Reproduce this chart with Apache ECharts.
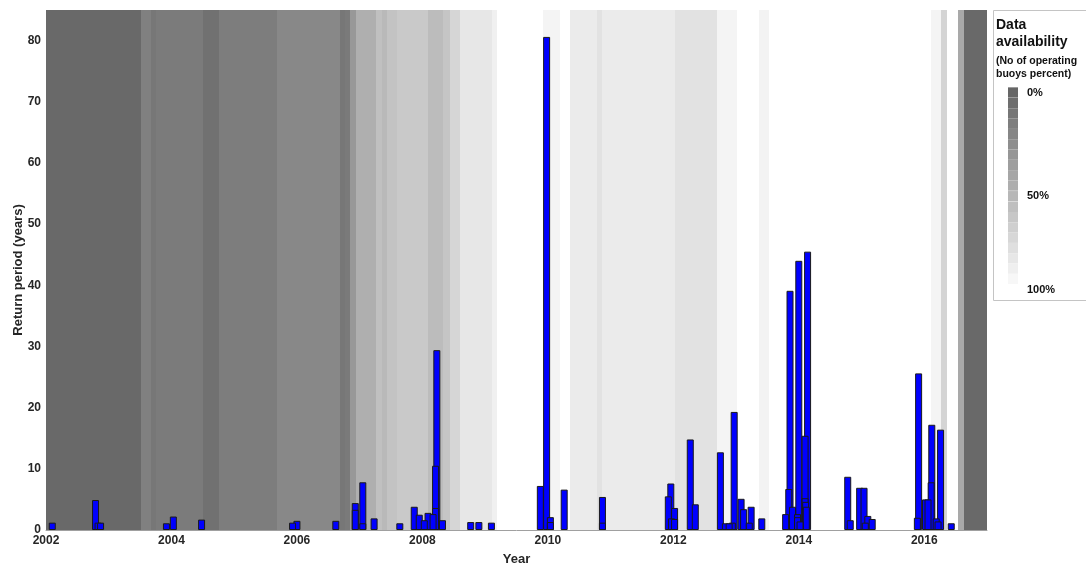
<!DOCTYPE html>
<html>
<head>
<meta charset="utf-8">
<script src="https://cdn.jsdelivr.net/npm/echarts@6/dist/echarts.min.js"></script>
<style>
html, body { margin: 0; padding: 0; background: #fff; }
#main { width: 1086px; height: 567px; }
</style>
</head>
<body>
<div id="main"></div>
<script>
var myChart = echarts.init(document.getElementById('main'));

// background bands: edges in years, availability in percent
var bandEdges = [2002.00, 2003.51, 2003.68, 2003.76, 2004.51, 2004.75, 2005.68, 2006.68, 2006.76, 2006.84,
    2006.94, 2007.26, 2007.35, 2007.43, 2007.59, 2008.09, 2008.33, 2008.44, 2008.60, 2009.11,
    2009.19, 2009.93, 2010.20, 2010.36, 2010.79, 2010.87, 2012.02, 2012.69, 2013.02, 2013.36,
    2013.52, 2016.10, 2016.26, 2016.37, 2016.53, 2016.63, 2017.00];
var bandAvail = [2, 17, 11, 14, 7, 15, 22, 11, 13, 33,
    48, 59, 54, 61, 65, 56, 62, 73, 84, 90,
    100, 93, 100, 87, 81, 87, 81, 93, 100, 92,
    100, 93, 72, 100, 44, 2];

// events
var eventYear = [2002.10, 2002.79, 2002.83, 2002.87, 2003.92, 2004.03, 2004.48, 2005.93, 2006.00, 2006.62,
    2006.93, 2006.93, 2007.05, 2007.05, 2007.23, 2007.64, 2007.87, 2007.95, 2008.03, 2008.09,
    2008.17, 2008.21, 2008.21, 2008.23, 2008.32, 2008.77, 2008.90, 2009.10, 2009.88, 2009.98,
    2010.04, 2010.04, 2010.26, 2010.87, 2010.87, 2011.92, 2011.96, 2011.97, 2012.02, 2012.02,
    2012.27, 2012.35, 2012.75, 2012.83, 2012.89, 2012.94, 2012.97, 2013.08, 2013.12, 2013.21,
    2013.24, 2013.41, 2013.79, 2013.84, 2013.86, 2013.90, 2013.98, 2013.98, 2014.00, 2014.02,
    2014.10, 2014.10, 2014.11, 2014.12, 2014.14, 2014.78, 2014.82, 2014.97, 2015.04, 2015.06,
    2015.10, 2015.17, 2015.89, 2015.91, 2016.02, 2016.06, 2016.11, 2016.12, 2016.19, 2016.22,
    2016.26, 2016.43];
var returnPeriod = [1.2, 4.9, 1.2, 1.2, 1.1, 2.2, 1.7, 1.2, 1.5, 1.5,
    4.4, 3.3, 7.8, 1.1, 1.9, 1.1, 3.8, 2.5, 1.6, 2.8,
    2.6, 10.5, 3.6, 29.4, 1.6, 1.3, 1.3, 1.2, 7.2, 80.6,
    2.1, 1.3, 6.6, 5.4, 1.2, 5.5, 7.6, 1.9, 3.6, 1.8,
    14.8, 4.2, 12.7, 1.1, 1.1, 1.2, 19.3, 5.1, 3.4, 1.2,
    3.8, 1.9, 2.6, 6.7, 39.1, 3.8, 2.6, 2.1, 44.0, 1.4,
    15.4, 5.2, 4.6, 3.8, 45.5, 8.7, 1.6, 6.9, 6.9, 1.2,
    2.3, 1.8, 2.0, 25.6, 5.0, 5.0, 7.8, 17.2, 1.9, 1.4,
    16.4, 1.1];

var fontFam = '"Liberation Sans", Arial, sans-serif';
var textCol = '#262626';

function availColor(p) {
    var g = Math.round(102 + 1.53 * p);
    return 'rgb(' + g + ',' + g + ',' + g + ')';
}

var bands = [];
for (var i = 0; i < bandAvail.length; i++) {
    bands.push([bandEdges[i], bandEdges[i + 1], bandAvail[i]]);
}

var bars = eventYear.map(function (x, i) { return [x, returnPeriod[i]]; });
// tall bars first so the short ones show their outline on top
bars.sort(function (a, b) { return b[1] - a[1]; });

var pieces = [];
for (var k = 0; k < 20; k++) {
    var p = { gte: k * 5, color: availColor(k * 100 / 19) };
    if (k === 19) p.lte = 100; else p.lt = k * 5 + 5;
    pieces.push(p);
}

var option = {
    animation: false,
    grid: {
        left: 46,
        right: 99,
        top: 10,
        bottom: 37,
        outerBoundsMode: 'none'
    },
    xAxis: {
        type: 'value',
        min: 2002,
        max: 2017,
        interval: 2,
        name: 'Year',
        nameLocation: 'middle',
        nameGap: 23,
        nameTextStyle: { color: textCol, fontWeight: 'bold', fontSize: 13, fontFamily: fontFam },
        axisLine: { lineStyle: { color: '#a0a0a0' } },
        axisTick: { show: false },
        splitLine: { show: false },
        axisLabel: {
            margin: 5,
            color: textCol,
            fontWeight: 'bold',
            fontSize: 12,
            fontFamily: fontFam,
            showMaxLabel: false,
            formatter: function (v) { return v % 2 === 0 ? String(v) : ''; }
        }
    },
    yAxis: {
        type: 'value',
        min: 0,
        max: 85,
        interval: 10,
        name: 'Return period (years)',
        nameLocation: 'middle',
        nameGap: 21,
        nameMoveOverlap: false,
        nameTextStyle: { color: textCol, fontWeight: 'bold', fontSize: 13, fontFamily: fontFam },
        axisLine: { show: false },
        axisTick: { show: false },
        splitLine: { show: false },
        axisLabel: {
            margin: 5,
            color: textCol,
            fontWeight: 'bold',
            fontSize: 12,
            fontFamily: fontFam,
            showMaxLabel: false,
            formatter: function (v) { return v % 10 === 0 ? String(v) : ''; }
        }
    },
    visualMap: {
        type: 'piecewise',
        seriesIndex: 0,
        dimension: 2,
        pieces: pieces,
        orient: 'vertical',
        inverse: true,
        align: 'left',
        left: 1008,
        top: 87,
        padding: 0,
        itemWidth: 10,
        itemHeight: 10.3,
        itemGap: 0,
        textGap: 9,
        itemSymbol: 'rect',
        selectedMode: false,
        hoverLink: false,
        textStyle: { color: '#111', fontWeight: 'bold', fontSize: 11, fontFamily: fontFam },
        formatter: function (a, b) {
            if (a === 0) return '0%';
            if (a === 50) return '50%';
            if (b === 100) return '100%';
            return '';
        }
    },
    graphic: [
        {
            type: 'rect',
            z: 0,
            shape: { x: 993.5, y: 10.5, width: 120, height: 290 },
            style: { fill: '#fff', stroke: '#c4c4c4', lineWidth: 1 }
        },
        {
            type: 'text',
            left: 996,
            top: 17,
            style: { text: 'Data\navailability', font: 'bold 14px ' + fontFam, fill: '#111', lineHeight: 17 }
        },
        {
            type: 'text',
            left: 996,
            top: 55,
            style: { text: '(No of operating\nbuoys percent)', font: 'bold 10.5px ' + fontFam, fill: '#111', lineHeight: 13 }
        }
    ],
    series: [
        {
            type: 'custom',
            data: bands,
            encode: { x: [0, 1] },
            silent: true,
            z: 1,
            renderItem: function (params, api) {
                var a = api.coord([api.value(0), 0]);
                var b = api.coord([api.value(1), 0]);
                var cs = params.coordSys;
                var x0 = Math.round(a[0]);
                var x1 = Math.round(b[0]);
                return {
                    type: 'rect',
                    shape: { x: x0, y: cs.y, width: x1 - x0, height: cs.height },
                    style: { fill: availColor(api.value(2)) }
                };
            }
        },
        {
            type: 'bar',
            data: bars,
            barWidth: 7,
            silent: true,
            z: 3,
            itemStyle: {
                color: '#0000ff',
                borderColor: '#1a1a1a',
                borderWidth: 1
            }
        }
    ]
};

myChart.setOption(option);
</script>
</body>
</html>
